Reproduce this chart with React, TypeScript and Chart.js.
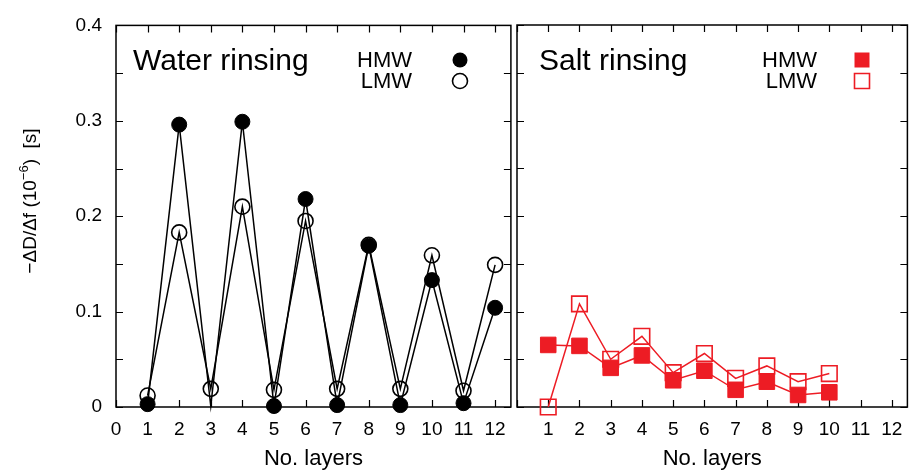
import React, { useEffect, useRef } from "react";
import { Chart, registerables } from "chart.js";

Chart.register(...registerables);

const waterLayers = [1, 2, 3, 4, 5, 6, 7, 8, 9, 10, 11, 12];
const waterHMW = [0.003, 0.296, 0.001, 0.299, 0.001, 0.218, 0.002, 0.169, 0.002, 0.133, 0.004, 0.104];
const waterLMW = [0.012, 0.183, 0.019, 0.21, 0.018, 0.195, 0.019, 0.17, 0.019, 0.159, 0.017, 0.149];
const waterHMWMarker = [1, 1, 0, 1, 1, 1, 1, 1, 1, 1, 1, 1];

const saltLayers = [1, 2, 3, 4, 5, 6, 7, 8, 9, 10];
const saltHMW = [0.065, 0.064, 0.041, 0.054, 0.028, 0.038, 0.018, 0.0265, 0.0126, 0.0154];
const saltLMW = [0.0, 0.108, 0.05, 0.074, 0.036, 0.056, 0.03, 0.043, 0.0265, 0.035];

const xTickValues = [0, 1, 2, 3, 4, 5, 6, 7, 8, 9, 10, 11, 12];
const yTickValues = [0, 0.05, 0.1, 0.15, 0.2, 0.25, 0.3, 0.35, 0.4];
const yLabelValues = [0, 0.1, 0.2, 0.3, 0.4];

const xMin = 0;
const xMax = 12.5;
const yMin = 0;
const yMax = 0.4;

const RED = "#ed1c24";
const FONT = "'Liberation Sans', Arial, Helvetica, sans-serif";

type PanelCfg = {
  title: string;
  titleDx: number;
  legendRight: number;
  markerX: number;
  color: string;
  style: "circle" | "rect";
  yTitle: boolean;
};

function makeDecorPlugin(cfg: PanelCfg) {
  return {
    id: "decor",
    beforeDatasetsDraw(chart: any) {
      const { ctx, chartArea: a, scales } = chart;
      const x = scales.x;
      const y = scales.y;
      ctx.save();
      ctx.strokeStyle = "#000";
      ctx.lineWidth = 1.5;
      ctx.strokeRect(a.left, a.top, a.right - a.left, a.bottom - a.top);
      ctx.lineWidth = 1.2;
      ctx.beginPath();
      x.ticks.forEach((t: any) => {
        const px = Math.round(x.getPixelForValue(t.value)) + 0.5;
        ctx.moveTo(px, a.bottom);
        ctx.lineTo(px, a.bottom - 7);
        ctx.moveTo(px, a.top);
        ctx.lineTo(px, a.top + 7);
      });
      y.ticks.forEach((t: any) => {
        const py = Math.round(y.getPixelForValue(t.value)) + 0.5;
        ctx.moveTo(a.left, py);
        ctx.lineTo(a.left + 7, py);
        ctx.moveTo(a.right, py);
        ctx.lineTo(a.right - 7, py);
      });
      ctx.stroke();
      ctx.restore();
    },
    afterDraw(chart: any) {
      const { ctx, chartArea: a } = chart;
      ctx.save();
      ctx.fillStyle = "#000";
      ctx.textBaseline = "alphabetic";
      ctx.textAlign = "left";
      ctx.font = `30px ${FONT}`;
      ctx.fillText(cfg.title, a.left + cfg.titleDx, 70);

      ctx.font = `22px ${FONT}`;
      ctx.textAlign = "right";
      ctx.textBaseline = "middle";
      const rows = [
        { label: "HMW", y: 60, filled: true },
        { label: "LMW", y: 81, filled: false },
      ];
      rows.forEach((r) => {
        ctx.fillStyle = "#000";
        ctx.fillText(r.label, a.left + cfg.legendRight, r.y + 1);
        const mx = a.left + cfg.markerX;
        ctx.lineWidth = 1.6;
        ctx.strokeStyle = cfg.color;
        ctx.fillStyle = cfg.color;
        ctx.beginPath();
        if (cfg.style === "circle") {
          ctx.arc(mx, r.y, 7.5, 0, Math.PI * 2);
        } else {
          ctx.rect(mx - 7.5, r.y - 7.5, 15, 15);
        }
        if (r.filled) ctx.fill();
        else ctx.stroke();
      });

      if (cfg.yTitle) {
        ctx.save();
        ctx.translate(31, 201);
        ctx.rotate(-Math.PI / 2);
        ctx.fillStyle = "#000";
        ctx.textAlign = "left";
        ctx.textBaseline = "middle";
        const big = `19px ${FONT}`;
        const small = `13px ${FONT}`;
        const p1 = "\u2212\u0394D/\u0394f (10";
        const p2 = "\u22126";
        const p3 = ")  [s]";
        ctx.font = big;
        const w1 = ctx.measureText(p1).width;
        const w3 = ctx.measureText(p3).width;
        ctx.font = small;
        const w2 = ctx.measureText(p2).width;
        let sx = -(w1 + w2 + w3) / 2;
        ctx.font = big;
        ctx.fillText(p1, sx, 0);
        sx += w1;
        ctx.font = small;
        ctx.fillText(p2, sx, -7);
        sx += w2;
        ctx.font = big;
        ctx.fillText(p3, sx, 0);
        ctx.restore();
      }
      ctx.restore();
    },
  };
}

function makeOptions(showY: boolean, hideZero: boolean, padLeft: number, padRight: number) {
  return {
    responsive: false,
    animation: false as const,
    maintainAspectRatio: false,
    layout: { padding: { top: 25, left: padLeft, right: padRight, bottom: 0 } },
    plugins: { legend: { display: false }, tooltip: { enabled: false } },
    scales: {
      x: {
        type: "linear" as const,
        min: xMin,
        max: xMax,
        grid: { display: false, drawTicks: false },
        border: { display: false },
        afterBuildTicks: (s: any) => {
          s.ticks = xTickValues.map((v) => ({ value: v }));
        },
        afterFit: (s: any) => {
          s.height = 65;
        },
        ticks: {
          autoSkip: false,
          maxRotation: 0,
          padding: 11,
          color: "#000",
          font: { size: 19, family: FONT },
          callback: (v: any) => (hideZero && v === 0 ? "" : String(v)),
        },
        title: {
          display: true,
          text: "No. layers",
          color: "#000",
          font: { size: 22, family: FONT },
          padding: { top: 4, bottom: 0 },
        },
      },
      y: {
        type: "linear" as const,
        min: yMin,
        max: yMax,
        display: true,
        grid: { display: false, drawTicks: false },
        border: { display: false },
        afterBuildTicks: (s: any) => {
          s.ticks = yTickValues.map((v) => ({ value: v }));
        },
        afterFit: (s: any) => {
          s.width = showY ? 116 : 0;
        },
        ticks: {
          display: showY,
          autoSkip: false,
          padding: 14,
          color: "#000",
          font: { size: 19, family: FONT },
          callback: (v: any) => {
            const hit = yLabelValues.find((l) => Math.abs(l - v) < 1e-9);
            if (hit === undefined) return "";
            return hit === 0 ? "0" : hit.toFixed(1);
          },
        },
      },
    },
  };
}

export default function App() {
  const leftRef = useRef<HTMLCanvasElement>(null);
  const rightRef = useRef<HTMLCanvasElement>(null);

  useEffect(() => {
    document.body.style.margin = "0";
    Chart.defaults.font.family = FONT;

    const left = new Chart(leftRef.current as HTMLCanvasElement, {
      type: "line",
      data: {
        datasets: [
          {
            label: "HMW",
            data: waterLayers.map((l, i) => ({ x: l, y: waterHMW[i] })),
            borderColor: "#000",
            backgroundColor: "#000",
            borderWidth: 1.5,
            pointRadius: waterHMWMarker.map((m) => (m ? 7.5 : 0)),
            pointBorderWidth: 1,
            pointStyle: "circle",
            tension: 0,
            clip: false as any,
            order: 0,
          },
          {
            label: "LMW",
            data: waterLayers.map((l, i) => ({ x: l, y: waterLMW[i] })),
            borderColor: "#000",
            backgroundColor: "rgba(0,0,0,0)",
            borderWidth: 1.5,
            pointRadius: 7.5,
            pointBorderWidth: 1.6,
            pointStyle: "circle",
            tension: 0,
            clip: false as any,
            order: 1,
          },
        ],
      },
      options: makeOptions(true, false, 0, 3) as any,
      plugins: [
        makeDecorPlugin({
          title: "Water rinsing",
          titleDx: 17,
          legendRight: 296,
          markerX: 344,
          color: "#000",
          style: "circle",
          yTitle: true,
        }),
      ],
    });

    const right = new Chart(rightRef.current as HTMLCanvasElement, {
      type: "line",
      data: {
        datasets: [
          {
            label: "HMW",
            data: saltLayers.map((l, i) => ({ x: l, y: saltHMW[i] })),
            borderColor: RED,
            backgroundColor: RED,
            borderWidth: 1.5,
            pointRadius: 11,
            pointBorderWidth: 1,
            pointStyle: "rect",
            tension: 0,
            clip: false as any,
            order: 0,
          },
          {
            label: "LMW",
            data: saltLayers.map((l, i) => ({ x: l, y: saltLMW[i] })),
            borderColor: RED,
            backgroundColor: "rgba(0,0,0,0)",
            borderWidth: 1.5,
            pointRadius: 11,
            pointBorderWidth: 1.6,
            pointStyle: "rect",
            tension: 0,
            clip: false as any,
            order: 1,
          },
        ],
      },
      options: makeOptions(false, true, 17, 2) as any,
      plugins: [
        makeDecorPlugin({
          title: "Salt rinsing",
          titleDx: 22,
          legendRight: 300,
          markerX: 345,
          color: RED,
          style: "rect",
          yTitle: false,
        }),
      ],
    });

    return () => {
      left.destroy();
      right.destroy();
    };
  }, []);

  return (
    <div style={{ position: "absolute", left: 0, top: 0, width: 920, height: 472, background: "#fff" }}>
      <canvas
        ref={leftRef}
        width={520}
        height={472}
        style={{ position: "absolute", left: 0, top: 0, width: 520, height: 472 }}
      />
      <canvas
        ref={rightRef}
        width={420}
        height={472}
        style={{ position: "absolute", left: 500, top: 0, width: 420, height: 472 }}
      />
    </div>
  );
}
